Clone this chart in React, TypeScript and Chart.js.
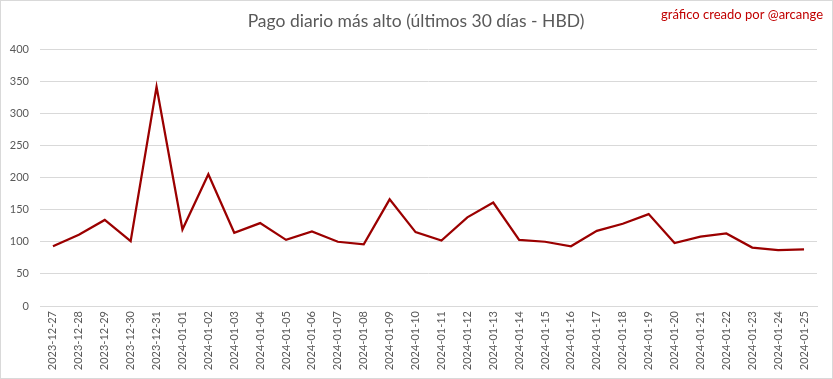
import React, { useEffect, useRef } from "react";
import { Chart, registerables } from "chart.js";

Chart.register(...registerables);

const categories = [
  "2023-12-27", "2023-12-28", "2023-12-29", "2023-12-30", "2023-12-31",
  "2024-01-01", "2024-01-02", "2024-01-03", "2024-01-04", "2024-01-05",
  "2024-01-06", "2024-01-07", "2024-01-08", "2024-01-09", "2024-01-10",
  "2024-01-11", "2024-01-12", "2024-01-13", "2024-01-14", "2024-01-15",
  "2024-01-16", "2024-01-17", "2024-01-18", "2024-01-19", "2024-01-20",
  "2024-01-21", "2024-01-22", "2024-01-23", "2024-01-24", "2024-01-25",
];

const payouts = [
  93, 111, 134, 101, 341,
  119, 205, 114, 129, 103,
  116, 100, 96, 166, 115,
  102, 138, 161, 103, 100,
  93, 117, 128, 143, 98,
  108, 113, 91, 87, 88,
];

const titleText = "Pago diario más alto (últimos 30 días - HBD)";
const creditText = "gráfico creado por @arcange";
const yMin = 0;
const yMax = 400;
const yStep = 50;

const FONT = "Lato, 'Open Sans', 'Noto Sans', sans-serif";
const GRAY = "#595959";
const GRID = "#d9d9d9";

const textPlugin = {
  id: "textPlugin",
  afterDraw(chart: any) {
    const ctx = chart.ctx;
    ctx.save();
    ctx.fillStyle = GRAY;
    ctx.font = `17.5px ${FONT}`;
    ctx.textAlign = "center";
    ctx.textBaseline = "middle";
    ctx.fillText(titleText, 415, 20);
    ctx.fillStyle = "#c00000";
    ctx.font = `13px ${FONT}`;
    ctx.textAlign = "right";
    ctx.fillText(creditText, 822, 14);
    ctx.restore();
  },
};

export default function App() {
  const ref = useRef<HTMLCanvasElement | null>(null);
  useEffect(() => {
    const canvas = ref.current;
    if (!canvas) return;
    const chart = new Chart(canvas, {
      type: "line",
      data: {
        labels: categories,
        datasets: [
          {
            data: payouts,
            borderColor: "#9b0000",
            borderWidth: 2.25,
            pointRadius: 0,
            tension: 0,
            fill: false,
          },
        ],
      },
      options: {
        animation: false,
        responsive: false,
        maintainAspectRatio: false,
        layout: { padding: { top: 48, right: 15, left: 0, bottom: 0 } },
        plugins: {
          legend: { display: false },
          tooltip: { enabled: false },
          title: { display: false },
        },
        scales: {
          x: {
            offset: true,
            grid: { display: false, drawTicks: false },
            border: { display: true, color: GRID, width: 1 },
            ticks: {
              color: GRAY,
              font: { family: FONT, size: 11 },
              minRotation: 90,
              maxRotation: 90,
              autoSkip: false,
              padding: 5,
            },
            afterFit(scale: any) {
              scale.height = 72;
            },
          },
          y: {
            min: yMin,
            max: yMax,
            grid: { color: GRID, lineWidth: 1, drawTicks: false },
            border: { display: false },
            ticks: {
              stepSize: yStep,
              color: GRAY,
              font: { family: FONT, size: 11 },
              padding: 11,
            },
            afterFit(scale: any) {
              scale.width = 39;
            },
          },
        },
      },
      plugins: [textPlugin],
    });
    return () => chart.destroy();
  }, []);

  return (
    <div
      style={{
        position: "fixed",
        left: 0,
        top: 0,
        width: 833,
        height: 379,
        boxSizing: "border-box",
        border: "1px solid #d9d9d9",
        background: "#fff",
      }}
    >
      <canvas ref={ref} width={831} height={377} style={{ display: "block" }} />
    </div>
  );
}
